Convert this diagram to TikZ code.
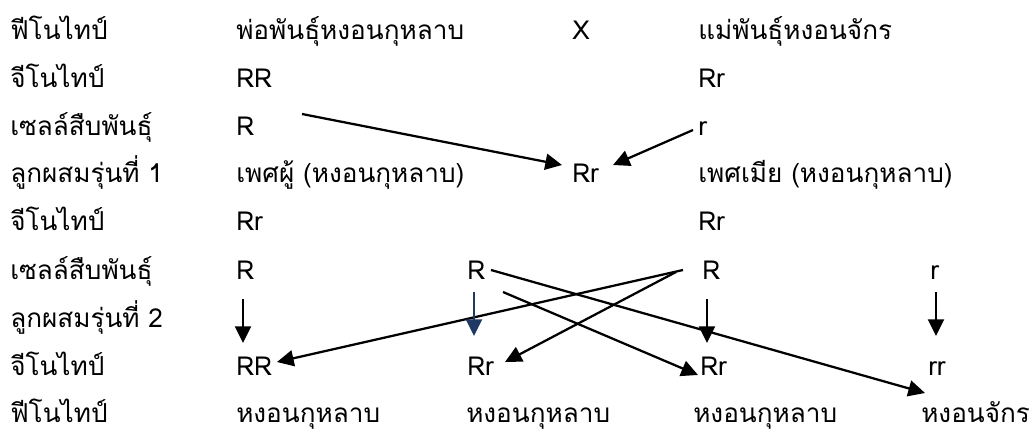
\documentclass[tikz,border=0pt]{standalone}
\usepackage{fontspec}
\newfontfamily\thai[Script=Thai]{Loma}
\usetikzlibrary{arrows.meta}
\definecolor{navy}{RGB}{31,56,100}
\tikzset{
  txt/.style={anchor=base west, inner sep=0pt, font=\thai\fontsize{19.6}{22}\selectfont},
  arr/.style={line width=1.7pt, -{Triangle[length=12.5pt,width=12pt]}},
}
\begin{document}
\begin{tikzpicture}[x=0.75pt,y=-0.75pt]
\useasboundingbox (0,0) rectangle (1035,432);
% row labels
\node[txt] (l1) at (10,39) {ฟีโนไทป์};
\node[txt] (l2) at (10,87) {จีโนไทป์};
\node[txt] (l3) at (10,135) {เซลล์สืบพันธุ์};
\node[txt] (l4) at (10,182) {ลูกผสมรุ่นที่ 1};
\node[txt] (l5) at (10,230) {จีโนไทป์};
\node[txt] (l6) at (10,279) {เซลล์สืบพันธุ์};
\node[txt] (l7) at (10,327) {ลูกผสมรุ่นที่ 2};
\node[txt] (l8) at (10,375) {จีโนไทป์};
\node[txt] (l9) at (10,422) {ฟีโนไทป์};
% column 2
\node[txt] (father) at (236,39) {พ่อพันธุ์หงอนกุหลาบ};
\node[txt] (fg) at (236,87) {RR};
\node[txt] (fgam) at (236,135) {R};
\node[txt] (male) at (236,182) {เพศผู้ (หงอนกุหลาบ)};
\node[txt] (mg) at (236,230) {Rr};
\node[txt] (g1) at (236,279) {R};
\node[txt] (o1) at (236,375) {RR};
\node[txt] (p1) at (236,422) {หงอนกุหลาบ};
% middle
\node[txt] (cross) at (572,39) {X};
\node[txt] (f1) at (572,182) {Rr};
% column 3
\node[txt] (g2) at (467,279) {R};
\node[txt] (o2) at (467,375) {Rr};
\node[txt] (p2) at (466,422) {หงอนกุหลาบ};
% column 4
\node[txt] (mother) at (698,39) {แม่พันธุ์หงอนจักร};
\node[txt] (mog) at (698,87) {Rr};
\node[txt] (mgam) at (698,135) {r};
\node[txt] (female) at (698,182) {เพศเมีย (หงอนกุหลาบ)};
\node[txt] (fmg) at (698,230) {Rr};
\node[txt] (g3) at (702,279) {R};
\node[txt] (o3) at (700,375) {Rr};
\node[txt] (p3) at (693,422) {หงอนกุหลาบ};
% column 5
\node[txt] (g4) at (930,279) {r};
\node[txt] (o4) at (928,375) {rr};
\node[txt] (p4) at (921,422) {หงอนจักร};
% arrow end points
\coordinate (a1s) at (302,114);  \coordinate (a1e) at (562,165);
\coordinate (a2s) at (693,130);  \coordinate (a2e) at (613,165);
\coordinate (a3s) at (491,270);  \coordinate (a3e) at (925,393);
\coordinate (a4s) at (503,292);  \coordinate (a4e) at (698,375);
\coordinate (a5s) at (683,270);  \coordinate (a5e) at (277,362);
\coordinate (a6s) at (676,272);  \coordinate (a6e) at (505,362);
\coordinate (v1s) at (243,299);  \coordinate (v1e) at (243,343);
\coordinate (v2s) at (474,292);  \coordinate (v2e) at (474,336);
\coordinate (v3s) at (707,299);  \coordinate (v3e) at (707,343);
\coordinate (v4s) at (936,292);  \coordinate (v4e) at (936,336);
% F1 arrows
\draw[arr] (a1s) -- (a1e);
\draw[arr] (a2s) -- (a2e);
% F2 arrows
\draw[arr] (a3s) -- (a3e);
\draw[arr] (a4s) -- (a4e);
\draw[arr] (a5s) -- (a5e);
\draw[arr] (a6s) -- (a6e);
\draw[arr] (v1s) -- (v1e);
\draw[arr, navy] (v2s) -- (v2e);
\draw[arr] (v3s) -- (v3e);
\draw[arr] (v4s) -- (v4e);
\end{tikzpicture}
\end{document}
